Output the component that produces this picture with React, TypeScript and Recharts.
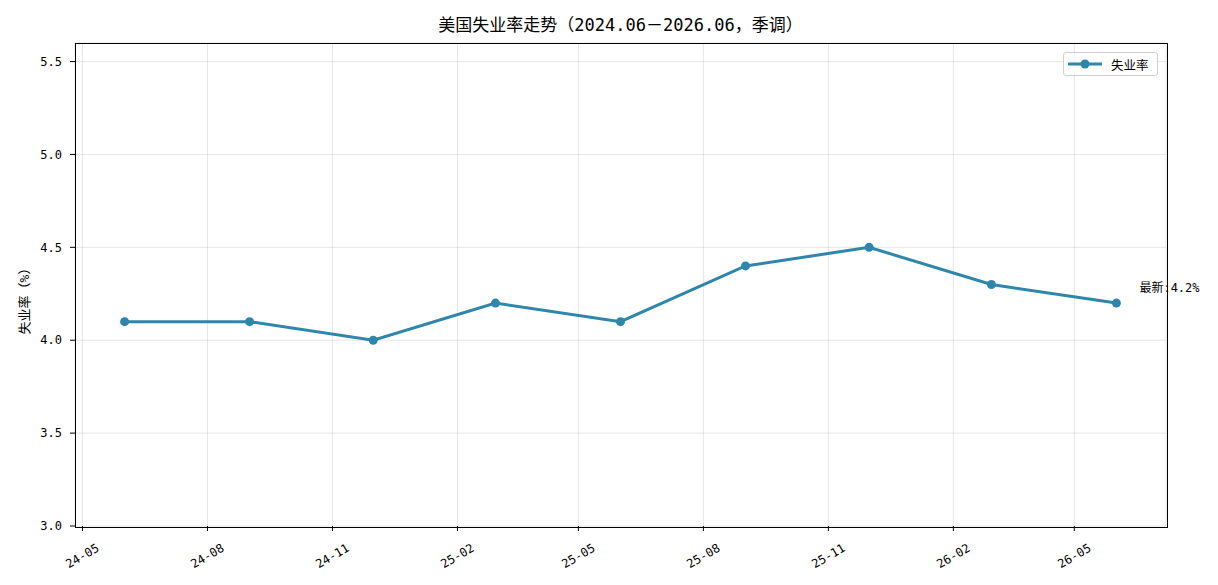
import React from 'react';
import { LineChart, Line, XAxis, YAxis, CartesianGrid, Legend } from 'recharts';

const monthLabels = ['2024-06', '2024-09', '2024-12', '2025-03', '2025-06', '2025-09', '2025-12', '2026-03', '2026-06'];
const unemploymentRates = [4.1, 4.1, 4.0, 4.2, 4.1, 4.4, 4.5, 4.3, 4.2];
const xTickMonths = ['2024-05', '2024-08', '2024-11', '2025-02', '2025-05', '2025-08', '2025-11', '2026-02', '2026-05'];
const yTicks = [3.0, 3.5, 4.0, 4.5, 5.0, 5.5];
const yDomain = [3.0, 5.6];
const seriesName = '失业率';
const titleText = '美国失业率走势（2024.06－2026.06，季调）';
const yLabelText = '失业率（%）';

const COLOR = '#2E86AB';
const FONT = "'DejaVu Sans Mono', 'Noto Sans CJK SC', sans-serif";
const PLOT = { left: 75, top: 43, right: 1166, bottom: 526 };

const toTs = (m: string) => {
  const [y, mo] = m.split('-').map(Number);
  return Date.UTC(y, mo - 1, 1);
};

const data = monthLabels.map((m, i) => ({ t: toTs(m), rate: unemploymentRates[i] }));
const xTicks = xTickMonths.map(toTs);
const span = data[data.length - 1].t - data[0].t;
const xDomain = [data[0].t - span * 0.05, data[data.length - 1].t + span * 0.05];

const fmtX = (v: number) => {
  const d = new Date(v);
  const yy = String(d.getUTCFullYear()).slice(2);
  const mm = String(d.getUTCMonth() + 1).padStart(2, '0');
  return `${yy}-${mm}`;
};

const XTick = (props: any) => {
  const { x, y, payload } = props;
  const cy = y + 25;
  return (
    <text
      x={x}
      y={cy}
      textAnchor="middle"
      dominantBaseline="central"
      fontSize={12}
      fontFamily={FONT}
      fill="#000"
      transform={`rotate(-30 ${x} ${cy})`}
    >
      {fmtX(payload.value)}
    </text>
  );
};

const LastLabel = (props: any) => {
  const { x, y, index, value } = props;
  if (index !== data.length - 1) return null;
  return (
    <text x={x + 23} y={y - 15} dominantBaseline="central" fontSize={12} fontFamily={FONT} fill="#000">
      {`最新:${value}%`}
    </text>
  );
};

const LegendBox = () => (
  <div
    style={{
      width: 95,
      height: 24,
      boxSizing: 'border-box',
      border: '1px solid #d0d0d0',
      borderRadius: 3,
      background: 'rgba(255,255,255,0.8)',
      display: 'flex',
      alignItems: 'center',
      fontFamily: FONT,
      fontSize: 12.5,
      color: '#000',
    }}
  >
    <svg width={40} height={20} style={{ marginLeft: 2 }}>
      <line x1={2} y1={10} x2={36} y2={10} stroke={COLOR} strokeWidth={3} />
      <circle cx={19} cy={10} r={4.5} fill={COLOR} />
    </svg>
    <span style={{ marginLeft: 5 }}>{seriesName}</span>
  </div>
);

export default function App() {
  return (
    <div style={{ position: 'absolute', left: 0, top: 0, width: 1218, height: 585, background: '#fff' }}>
      <div
        style={{
          position: 'absolute',
          left: 0,
          width: 1241,
          top: 11,
          textAlign: 'center',
          fontFamily: FONT,
          fontSize: 17,
          color: '#000',
          whiteSpace: 'nowrap',
        }}
      >
        {titleText}
      </div>
      <div
        style={{
          position: 'absolute',
          left: 22.5,
          top: 298,
          transform: 'translate(-50%, -50%) rotate(-90deg)',
          fontFamily: FONT,
          fontSize: 13,
          whiteSpace: 'nowrap',
          color: '#000',
        }}
      >
        {yLabelText}
      </div>
      <LineChart
        width={1218}
        height={585}
        data={data}
        margin={{ top: PLOT.top, right: 1218 - PLOT.right, bottom: 9, left: 15 }}
      >
        <CartesianGrid stroke="#b0b0b0" strokeOpacity={0.4} strokeWidth={0.8} />
        <XAxis
          dataKey="t"
          type="number"
          scale="time"
          domain={xDomain}
          ticks={xTicks}
          allowDataOverflow
          height={50}
          tick={<XTick />}
          tickSize={5}
          tickMargin={0}
          axisLine={false}
          tickLine={{ stroke: '#000' }}
          interval={0}
        />
        <YAxis
          type="number"
          domain={yDomain}
          ticks={yTicks}
          allowDataOverflow
          width={60}
          tickFormatter={(v: number) => v.toFixed(1)}
          tick={{ fontSize: 12, fontFamily: FONT, fill: '#000' }}
          tickSize={5}
          tickMargin={8}
          axisLine={false}
          tickLine={{ stroke: '#000' }}
          interval={0}
        />
        <Legend
          layout="horizontal"
          verticalAlign="middle"
          align="center"
          content={<LegendBox />}
          wrapperStyle={{ position: 'absolute', left: 1063, top: 52, width: 95, height: 24 }}
        />
        <Line
          type="linear"
          dataKey="rate"
          name={seriesName}
          stroke={COLOR}
          strokeWidth={3}
          dot={{ r: 4.5, fill: COLOR, stroke: COLOR, strokeWidth: 0 }}
          activeDot={false}
          isAnimationActive={false}
          label={<LastLabel />}
        />
      </LineChart>
      <div
        style={{
          position: 'absolute',
          left: PLOT.left - 0.5,
          top: PLOT.top - 0.5,
          width: PLOT.right - PLOT.left,
          height: PLOT.bottom - PLOT.top,
          border: '1.2px solid #000',
          pointerEvents: 'none',
        }}
      />
    </div>
  );
}
